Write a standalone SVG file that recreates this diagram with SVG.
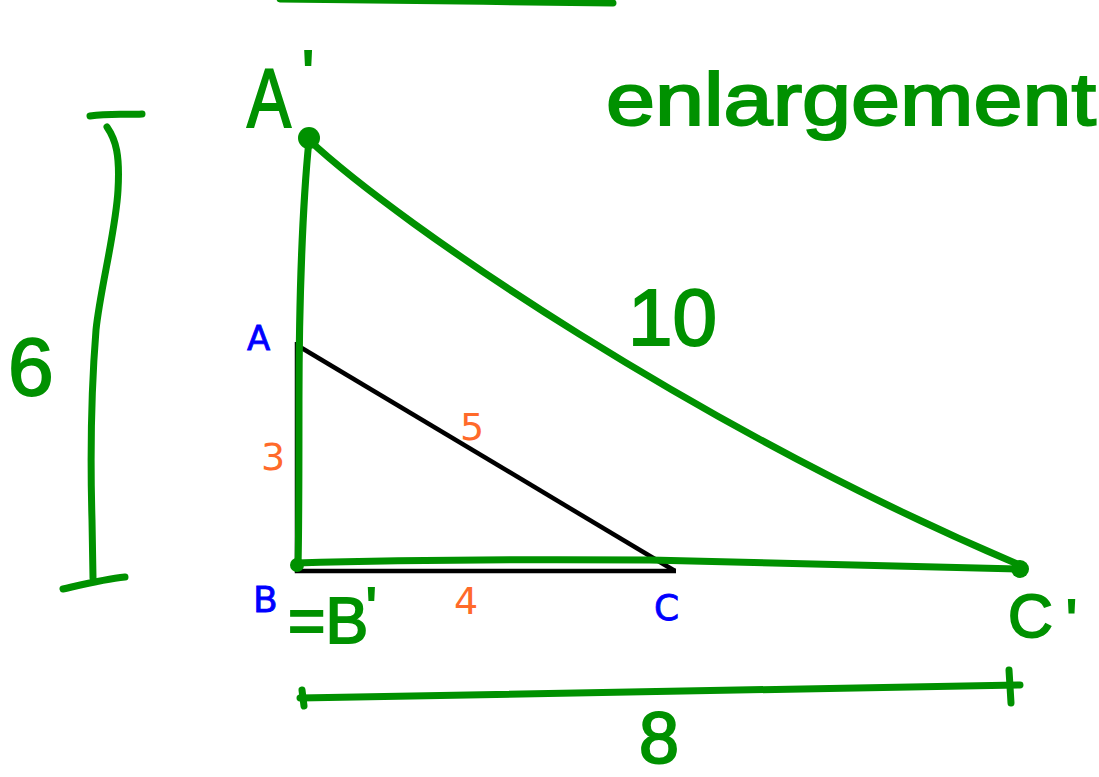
<svg xmlns="http://www.w3.org/2000/svg" width="1099" height="777" viewBox="0 0 1099 777">
<style>
.g{fill:none;stroke:#009100;stroke-width:7;stroke-linecap:round;stroke-linejoin:round}
.k{fill:none;stroke:#000;stroke-width:4.5;stroke-linejoin:miter}
.gt{fill:#009100;stroke:#009100;stroke-width:2;font-family:"Liberation Sans",Arial,sans-serif}
.bt{fill:#0000ff;stroke:#0000ff;stroke-width:0.8;font-family:"DejaVu Sans","Liberation Sans",sans-serif}
.ot{fill:#ff6a2a;font-family:"DejaVu Sans","Liberation Sans",sans-serif}
</style>
<rect width="1099" height="777" fill="#fff"/>
<g id="connectors">
<path class="g" d="M280,-1 C400,1 500,1 613,3"/>
<path class="k" d="M297,342 L297,571 L676,571"/>
<path class="k" d="M300,347 L675,571"/>
<path class="g" d="M309,140 C303,200 299,300 299,400 C299,480 299,530 298,566"/>
<path class="g" d="M296,563 C400,560 500,559 650,560 C780,562 900,567 1020,569"/>
<path class="g" d="M309,140 C400,225 700,430 1022,566"/>
<path class="g" d="M90,116 C110,113 125,115 142,114"/>
<path class="g" d="M107,127 C116,140 120,155 118,190 C116,230 100,290 96,330 C92,380 90,450 92,520 L93,578"/>
<path class="g" d="M63,589 C85,584 105,579 125,577"/>
<path class="g" d="M300,698 C500,694 700,690 1020,685"/>
<path class="g" d="M302,690 L304,706"/>
<path class="g" d="M1009,670 L1011,703"/>
</g>
<g id="dots" fill="#009100">
<circle cx="309" cy="138" r="11"/>
<circle cx="297" cy="565" r="7"/>
<circle cx="1020" cy="569" r="9"/>
</g>
<g id="node-A-prime"><text class="gt" x="247" y="127" font-size="84" textLength="44" lengthAdjust="spacingAndGlyphs">A</text><text class="gt" x="302" y="96" font-size="64">'</text></g>
<g id="node-enlargement"><text class="gt" x="606" y="125" font-size="74" textLength="490" lengthAdjust="spacingAndGlyphs">enlargement</text></g>
<g id="node-A"><text class="bt" x="247" y="350" font-size="34">A</text></g>
<g id="node-B"><text class="bt" x="253" y="612" font-size="36">B</text></g>
<g id="node-C"><text class="bt" x="654" y="620" font-size="36">C</text></g>
<g id="node-B-prime"><text class="gt" x="288" y="643" font-size="64">=B</text><text class="gt" x="366" y="626" font-size="56">'</text></g>
<g id="node-C-prime"><text class="gt" x="1008" y="637" font-size="62">C</text><text class="gt" x="1066" y="640" font-size="58">'</text></g>
<g id="label-3"><text class="ot" x="261" y="470" font-size="38">3</text></g>
<g id="label-4"><text class="ot" x="454" y="614" font-size="38">4</text></g>
<g id="label-5"><text class="ot" x="460" y="440" font-size="38">5</text></g>
<g id="label-10"><text class="gt" x="628" y="345" font-size="80">10</text></g>
<g id="label-8"><text class="gt" x="639" y="763" font-size="72">8</text></g>
<g id="label-6"><text class="gt" x="8" y="395" font-size="82">6</text></g>
</svg>
